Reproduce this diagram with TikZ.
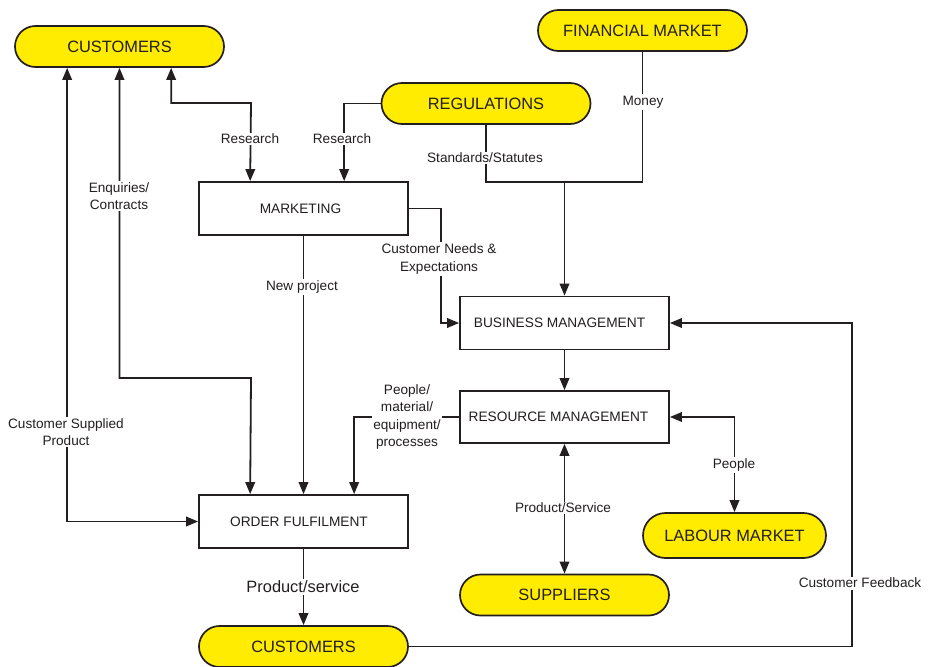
\documentclass[tikz,border=0pt]{standalone}
\usepackage{fontspec}
\setmainfont{Liberation Sans}
\usetikzlibrary{arrows.meta,calc}
\definecolor{pillY}{RGB}{255,236,0}
\definecolor{ink}{RGB}{35,31,32}
\tikzset{
 pill/.style={draw=ink, fill=pillY, line width=1.7pt, rounded corners=20.5pt, minimum width=209pt, minimum height=41pt, inner sep=0pt, font=\fontsize{16.4}{19}\selectfont, text=ink},
 box/.style={draw=ink, fill=white, line width=1.7pt, minimum width=209pt, minimum height=53pt, inner sep=0pt, font=\fontsize{13.7}{16}\selectfont, text=ink},
 lbl/.style={fill=white, inner sep=1.5pt, align=center, font=\fontsize{13.6}{17.5}\selectfont, text=ink},
 conn/.style={draw=ink, line width=1.8pt},
 arr/.style={conn, -{Triangle[length=12pt,width=9.5pt]}},
 biarr/.style={conn, {Triangle[length=12pt,width=9.5pt]}-{Triangle[length=12pt,width=9.5pt]}},
}
\begin{document}
\begin{tikzpicture}[x=1pt,y=-1pt]
\fill[white] (0,0) rectangle (930,667);
\useasboundingbox (0,0) rectangle (930,667);
% nodes
\node[pill] (cust1) at (119.5,46.5) {CUSTOMERS};
\node[pill] (fin) at (642.5,30.5) {FINANCIAL MARKET};
\node[pill] (reg) at (486,103.5) {REGULATIONS};
\node[box] (mkt) at (303.5,208.5) {MARKETING\hspace*{6pt}};
\node[box] (bm) at (564.5,323) {BUSINESS MANAGEMENT\hspace*{10pt}};
\node[box, minimum height=52pt] (rm) at (564.5,417) {RESOURCE MANAGEMENT\hspace*{12pt}};
\node[box] (of) at (303.5,521.5) {ORDER FULFILMENT\hspace*{9pt}};
\node[pill] (sup) at (564.5,595) {SUPPLIERS};
\node[pill, minimum width=183pt, minimum height=45pt, rounded corners=22.5pt] (lab) at (734.5,535.5) {LABOUR MARKET};
\node[pill] (cust2) at (303.5,646.5) {CUSTOMERS};
\coordinate (j) at (564.5,182);
% connectors
\draw[biarr] ([xshift=157pt]cust1.south west) |- (251,103) -- ([xshift=52pt]mkt.north west);
\draw[arr] (reg.west) -| ([xshift=146pt]mkt.north west);
\draw[conn] (reg.south) |- (j);
\draw[conn] (fin.south) |- (j);
\draw[arr] (j) -- (bm.north);
\draw[arr] (mkt.east) -| (441,323) -- (bm.west);
\draw[arr] (mkt.south) -- (of.north);
\draw[arr] (bm.south) -- (rm.north);
\draw[biarr] (cust1.south) |- (251,378) -- ([xshift=52pt]of.north west);
\draw[biarr] ([xshift=53pt]cust1.south west) |- (of.west);
\draw[arr] (rm.west) -| ([xshift=156pt]of.north west);
\draw[arr] (of.south) -- (cust2.north);
\draw[arr] (cust2.east) -| (852,323) -- (bm.east);
\draw[biarr] (rm.south) -- (sup.north);
\draw[biarr] (rm.east) -| (lab.north);
% labels
\node[lbl] (l1) at (250,139) {Research};
\node[lbl] (l2) at (342,139) {Research};
\node[lbl] (l3) at (485,158) {Standards/Statutes};
\node[lbl] (l4) at (643,102) {Money};
\node[lbl] (l5) at (439,259) {Customer Needs \&\\Expectations};
\node[lbl] (l6) at (302,287) {New project};
\node[lbl] (l7) at (119,196) {Enquiries/\\Contracts};
\node[lbl] (l8) at (66,432) {Customer Supplied\\Product};
\node[lbl] (l9) at (407,417) {People/\\material/\\equipment/\\processes};
\node[lbl, font=\fontsize{16.4}{19}\selectfont] (l10) at (303,587) {Product/service};
\node[lbl] (l11) at (860,583) {Customer Feedback};
\node[lbl] (l12) at (563,508) {Product/Service};
\node[lbl] (l13) at (734,465) {People};
\end{tikzpicture}
\end{document}
